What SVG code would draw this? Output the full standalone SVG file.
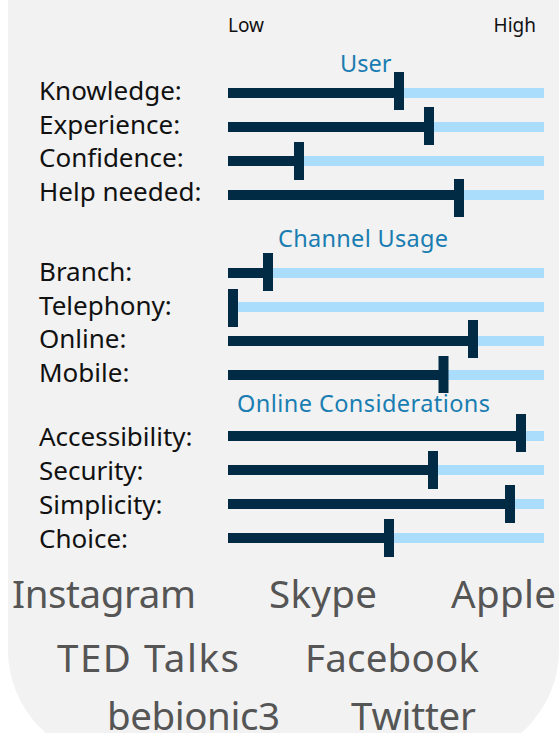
<svg xmlns="http://www.w3.org/2000/svg" width="559" height="733" viewBox="0 0 559 733">
<style>
.lbl{font-family:"Noto Sans","Liberation Sans",sans-serif;font-size:26px;fill:#111}
.axis{font-family:"Noto Sans","Liberation Sans",sans-serif;font-size:19px;fill:#111}
.hdr{font-family:"Noto Sans","Liberation Sans",sans-serif;font-size:23.5px;fill:#1a7db1}
.brand{font-family:"Noto Sans","Liberation Sans",sans-serif;font-size:38.5px;fill:#555}
.track{fill:#aadcfb}
.bar{fill:#012a44}
</style>
<rect width="559" height="733" fill="#ffffff"/>
<path d="M8,0 H559 V650 A110,110 0 0 1 449,760 H118 A110,110 0 0 1 8,650 Z" fill="#f2f2f2"/>
<g id="axis">
<text class="axis" x="228" y="32">Low</text>
<text class="axis" x="536" y="32" text-anchor="end">High</text>
</g>
<g id="headers">
<text class="hdr" x="340" y="72">User</text>
<text class="hdr" x="278" y="247" textLength="170">Channel Usage</text>
<text class="hdr" x="237" y="412" textLength="253">Online Considerations</text>
</g>
<g id="knowledge"><text class="lbl" x="39" y="100">Knowledge:</text><rect class="track" x="228" y="88" width="316" height="10"/><rect class="bar" x="228" y="88" width="170" height="10"/><rect class="bar" x="394" y="72" width="10" height="38"/></g>
<g id="experience"><text class="lbl" x="39" y="133.5">Experience:</text><rect class="track" x="228" y="122" width="316" height="10"/><rect class="bar" x="228" y="122" width="200" height="10"/><rect class="bar" x="424" y="107" width="10" height="38"/></g>
<g id="confidence"><text class="lbl" x="39" y="167">Confidence:</text><rect class="track" x="228" y="156" width="316" height="10"/><rect class="bar" x="228" y="156" width="70" height="10"/><rect class="bar" x="294" y="142" width="10" height="38"/></g>
<g id="help-needed"><text class="lbl" x="39" y="200.5">Help needed:</text><rect class="track" x="228" y="190" width="316" height="10"/><rect class="bar" x="228" y="190" width="230" height="10"/><rect class="bar" x="454" y="179" width="10" height="38"/></g>
<g id="branch"><text class="lbl" x="39" y="281">Branch:</text><rect class="track" x="228" y="268" width="316" height="10"/><rect class="bar" x="228" y="268" width="40" height="10"/><rect class="bar" x="263" y="253" width="10" height="38"/></g>
<g id="telephony"><text class="lbl" x="39" y="314.5">Telephony:</text><rect class="track" x="228" y="302" width="316" height="10"/><rect class="bar" x="228" y="289" width="10" height="38"/></g>
<g id="online"><text class="lbl" x="39" y="348">Online:</text><rect class="track" x="228" y="336" width="316" height="10"/><rect class="bar" x="228" y="336" width="244" height="10"/><rect class="bar" x="468" y="320" width="10" height="38"/></g>
<g id="mobile"><text class="lbl" x="39" y="381.5">Mobile:</text><rect class="track" x="228" y="370" width="316" height="10"/><rect class="bar" x="228" y="370" width="214" height="10"/><rect class="bar" x="438.5" y="356" width="10" height="37"/></g>
<g id="accessibility"><text class="lbl" x="39" y="446">Accessibility:</text><rect class="track" x="228" y="431" width="316" height="10"/><rect class="bar" x="228" y="431" width="292" height="10"/><rect class="bar" x="516" y="414" width="10" height="38"/></g>
<g id="security"><text class="lbl" x="39" y="480">Security:</text><rect class="track" x="228" y="465" width="316" height="10"/><rect class="bar" x="228" y="465" width="204" height="10"/><rect class="bar" x="428" y="451" width="10" height="38"/></g>
<g id="simplicity"><text class="lbl" x="39" y="514">Simplicity:</text><rect class="track" x="228" y="499" width="316" height="10"/><rect class="bar" x="228" y="499" width="281" height="10"/><rect class="bar" x="505" y="485" width="10" height="38"/></g>
<g id="choice"><text class="lbl" x="39" y="547.5">Choice:</text><rect class="track" x="228" y="533" width="316" height="10"/><rect class="bar" x="228" y="533" width="160" height="10"/><rect class="bar" x="384" y="519" width="10" height="38"/></g>
<g id="brands">
<text class="brand" x="12" y="608" textLength="184">Instagram</text>
<text class="brand" x="269" y="608" textLength="108">Skype</text>
<text class="brand" x="451" y="608" textLength="105">Apple</text>
<text class="brand" x="57" y="672" textLength="182">TED Talks</text>
<text class="brand" x="305" y="672" textLength="174">Facebook</text>
<text class="brand" x="107" y="730" textLength="173">bebionic3</text>
<text class="brand" x="351" y="730" textLength="125">Twitter</text>
</g>
</svg>
